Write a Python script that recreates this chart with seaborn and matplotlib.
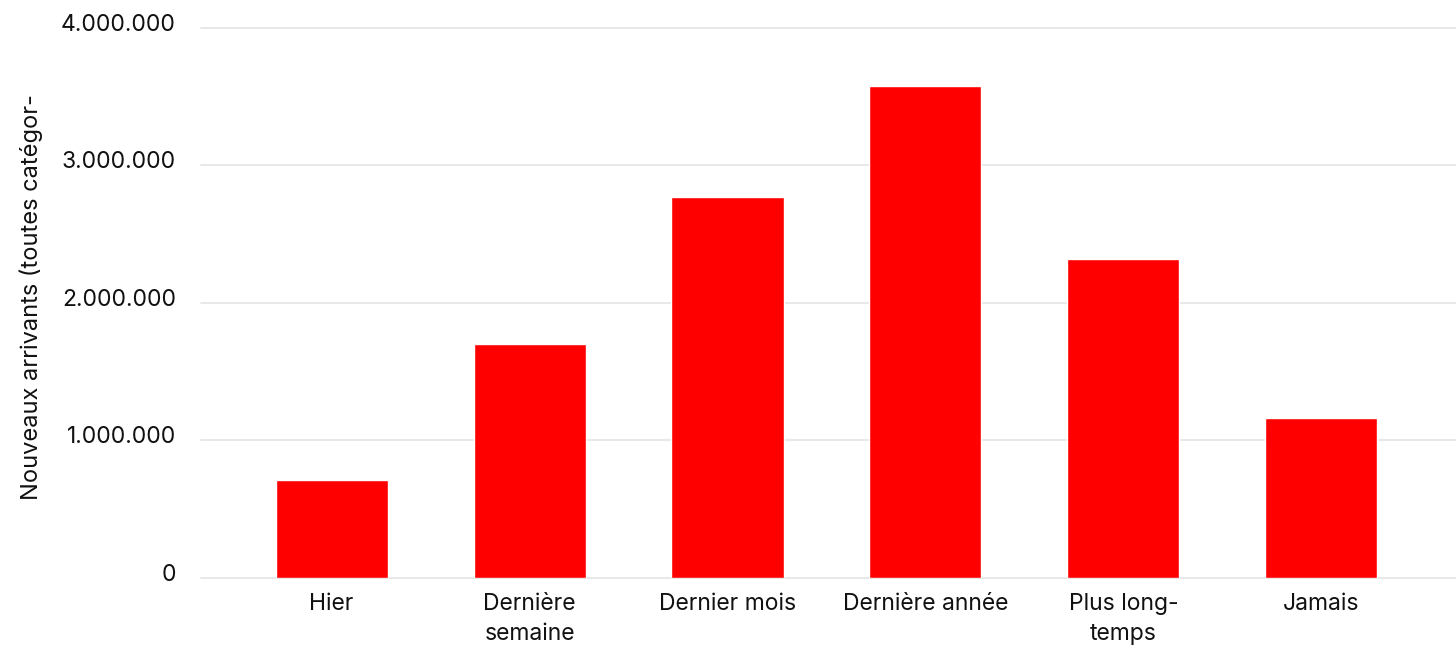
import matplotlib
matplotlib.use("Agg")
import matplotlib.pyplot as plt
import matplotlib.transforms as mtransforms
import seaborn as sns
import pandas as pd

categories = ["Hier", "Dernière\nsemaine", "Dernier mois", "Dernière année", "Plus long-\ntemps", "Jamais"]
values = [710000, 1700000, 2770000, 3580000, 2320000, 1160000]
y_ticks = [0, 1000000, 2000000, 3000000, 4000000]
y_tick_labels = ["0", "1.000.000", "2.000.000", "3.000.000", "4.000.000"]
y_label = "Nouveaux arrivants (toutes catégor-"

sns.set_theme(style="white")
plt.rcParams['font.family'] = ['Inter', 'DejaVu Sans']

df = pd.DataFrame({"cat": categories, "val": values})

fig = plt.figure(figsize=(14.56, 6.45), dpi=100)
ax = fig.add_axes([0.138, 0.1039, 0.862, 0.8527])
sns.barplot(data=df, x="cat", y="val", color="#ff0000", saturation=1, width=0.566, ax=ax)

ax.set_xlim(-0.66, 5.68)
ax.set_ylim(0, 4000000)
ax.set_yticks(y_ticks)
ax.set_yticklabels(y_tick_labels, fontsize=16.5, color="#111111")
ax.grid(axis="y", color="#e6e6e6", linewidth=1.3)
ax.set_axisbelow(True)
for s in ax.spines.values():
    s.set_visible(False)
ax.tick_params(axis="y", length=0, pad=18)
ax.tick_params(axis="x", length=0, pad=11, labelsize=16.5, labelcolor="#111111")
for gl in ax.get_ygridlines():
    gl.set_clip_on(False)
offset = mtransforms.ScaledTranslation(0, 4/72, fig.dpi_scale_trans)
for lbl in ax.get_yticklabels():
    lbl.set_transform(lbl.get_transform() + offset)
for lbl in ax.get_xticklabels():
    lbl.set_linespacing(1.45)
    lbl.set_verticalalignment("top")

ax.set_xlabel("")
ax.set_ylabel(y_label, fontsize=17, color="#111111")
ax.yaxis.set_label_coords(-0.126, 0.51)

fig.savefig("out.png", dpi=100)
